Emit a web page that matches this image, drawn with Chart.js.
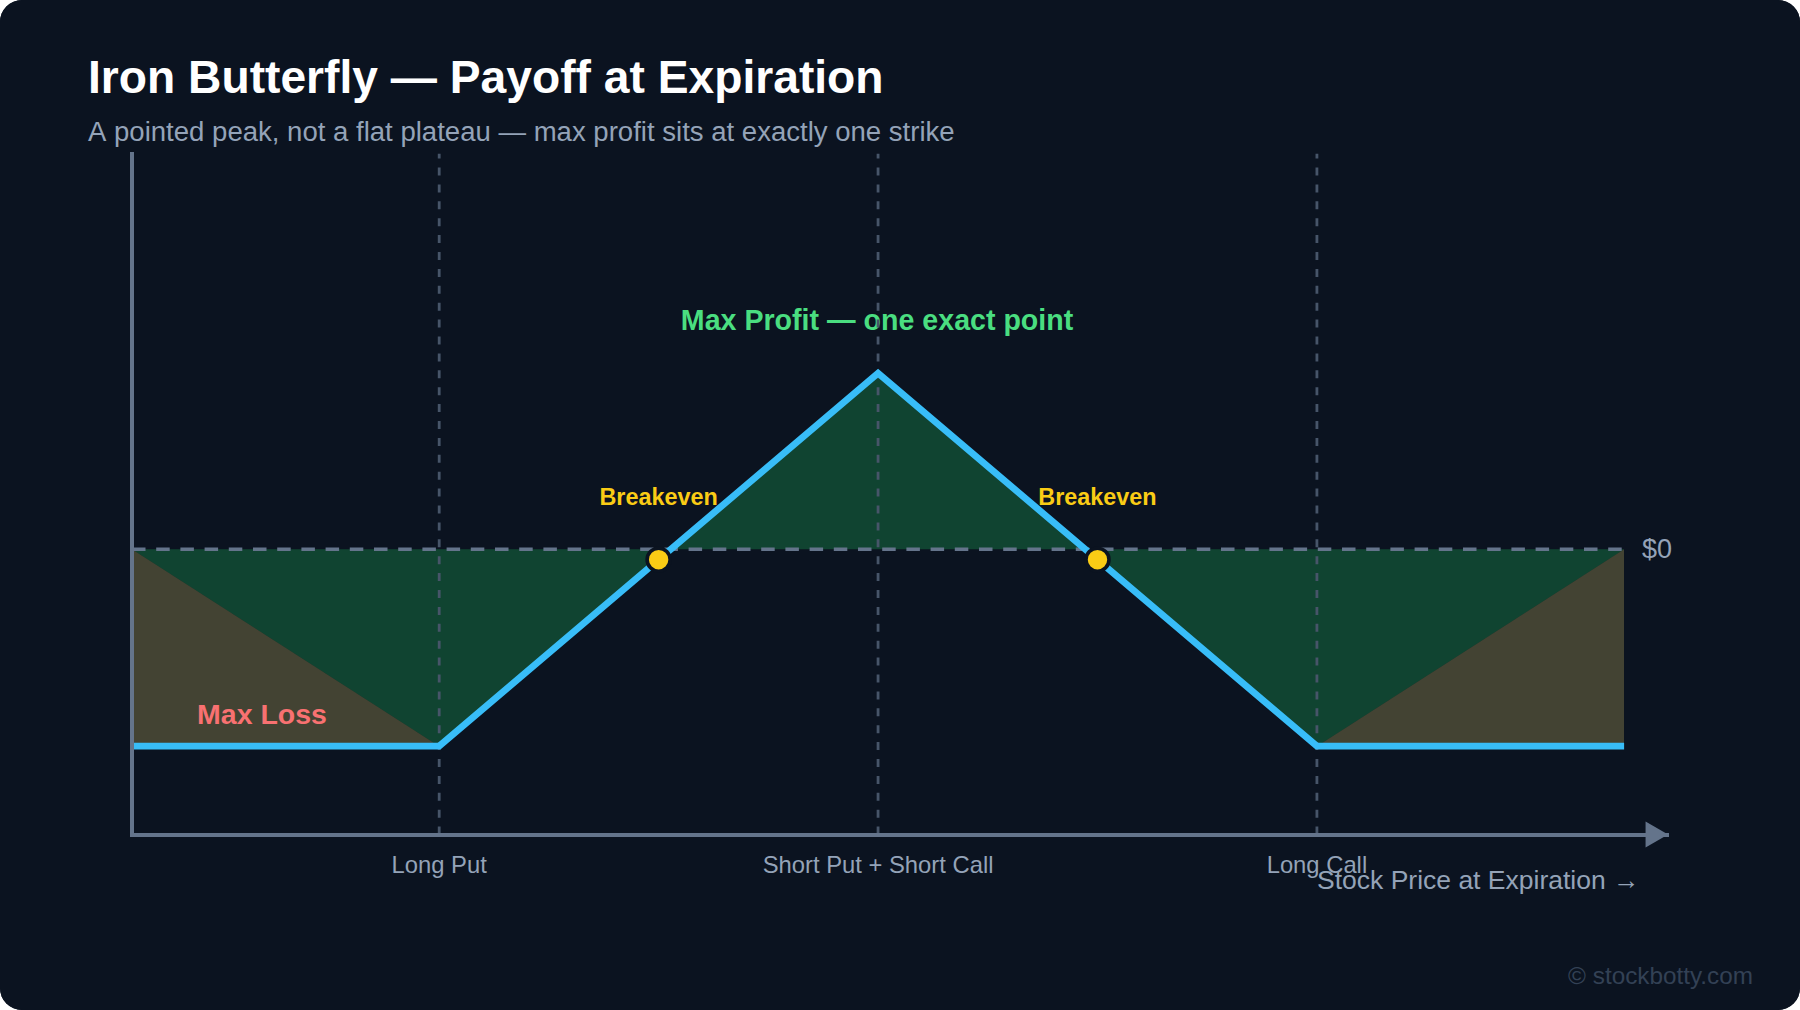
<!DOCTYPE html>
<html>
<head>
<meta charset="utf-8">
<title>Iron Butterfly</title>
<script src="https://cdn.jsdelivr.net/npm/chart.js@4"></script>
<style>
html, body { margin: 0; padding: 0; background: #ffffff; }
#card { width: 1800px; height: 1010px; background: #0b1320; border-radius: 22px; overflow: hidden; }
canvas { display: block; }
</style>
</head>
<body>
<div id="card"><canvas id="grafico" width="1800" height="1010"></canvas></div>
<script>
// payoff (price in $, strikes 10 apart)
const legPrices = [83, 90, 100, 110, 117];
const payoffValues = [-5.28, -5.28, 4.72, -5.28, -5.28];
const shadedValues = [0, -5.28, 4.72, -5.28, 0];
const lossLeftPrices = [83, 90];
const lossLeftValues = [0, -5.28];
const lossRightPrices = [110, 117];
const lossRightValues = [-5.28, 0];
const breakevenPrices = [95, 105];
const breakevenValues = [-0.28, -0.28];
const zeroPrices = [83, 117];
const zeroValues = [0, 0];
const strikePrices = [90, 100, 110];
const strikeLabels = ["Long Put", "Short Put + Short Call", "Long Call"];
const arrowPrices = [117.66];
const arrowValues = [-7.65];

const yMin = -7.65;
const yMax = 10.6;
const fontName = '"Liberation Sans", Arial, sans-serif';
const cardColor = "#0b1320";

const toPoints = (xs, ys) => xs.map((x, i) => ({ x: x, y: ys[i] }));

const lineBase = { pointRadius: 0, borderCapStyle: "butt", clip: false };

const strikeLines = strikePrices.map((precio) => ({
    ...lineBase,
    data: toPoints([precio, precio], [yMin, yMax]),
    borderColor: "#475569",
    borderWidth: 2.8,
    borderDash: [8, 8.9],
    order: 4
}));

// text that sits on the chart, anchored to the scales where it belongs to a value
const drawLabel = (ctx, text, x, y, font, color, align) => {
    ctx.save();
    ctx.font = font + " " + fontName;
    ctx.fillStyle = color;
    ctx.textAlign = align;
    ctx.textBaseline = "alphabetic";
    ctx.fillText(text, x, y);
    ctx.restore();
};

const chartLabels = {
    id: "chartLabels",
    beforeDraw(chart) {
        chart.ctx.save();
        chart.ctx.fillStyle = cardColor;
        chart.ctx.fillRect(0, 0, chart.width, chart.height);
        chart.ctx.restore();
    },
    beforeDatasetsDraw(chart) {
        const x = chart.scales.x;
        drawLabel(chart.ctx, "Max Profit \u2014 one exact point", x.getPixelForValue(strikePrices[1]) - 1, 330, "bold 28.6px", "#4ade80", "center");
    },
    afterDatasetsDraw(chart) {
        const ctx = chart.ctx;
        const x = chart.scales.x;
        const y = chart.scales.y;
        breakevenPrices.forEach((precio) => {
            drawLabel(ctx, "Breakeven", x.getPixelForValue(precio), 505, "bold 23.4px", "#facc15", "center");
        });
        drawLabel(ctx, "Max Loss", 262, 724, "bold 28.5px", "#f87171", "center");
        drawLabel(ctx, "$0", 1642, y.getPixelForValue(0) + 9, "27px", "#94a3b8", "left");
        drawLabel(ctx, "Stock Price at Expiration \u2192", 1317, 889, "26.5px", "#94a3b8", "left");
        drawLabel(ctx, "\u00a9 stockbotty.com", 1753, 983.5, "24.3px", "#334155", "right");
    }
};

const canvas = document.querySelector("#grafico");
canvas.getContext("2d", { alpha: false });

new Chart(canvas, {
    type: "line",
    data: {
        datasets: [
            { ...lineBase, data: toPoints(legPrices, shadedValues), borderWidth: 0, fill: { value: 0 }, backgroundColor: "rgba(34,197,94,0.28)", order: 6 },
            { ...lineBase, data: toPoints(lossLeftPrices, lossLeftValues), borderWidth: 0, fill: { value: -5.28 }, backgroundColor: "#434333", order: 6 },
            { ...lineBase, data: toPoints(lossRightPrices, lossRightValues), borderWidth: 0, fill: { value: -5.28 }, backgroundColor: "#434333", order: 6 },
            ...strikeLines,
            { ...lineBase, data: toPoints(zeroPrices, zeroValues), borderColor: "#64748b", borderWidth: 3.4, borderDash: [13.5, 10.7], order: 3 },
            { ...lineBase, data: toPoints(legPrices, payoffValues), borderColor: "#38bdf8", borderWidth: 6.75, borderJoinStyle: "miter", tension: 0, order: 2 },
            { data: toPoints(breakevenPrices, breakevenValues), showLine: false, pointRadius: 11.5, pointBackgroundColor: "#facc15", pointBorderColor: cardColor, pointBorderWidth: 3.6, clip: false, order: 1 },
            { data: toPoints(arrowPrices, arrowValues), showLine: false, pointStyle: "triangle", pointRotation: 90, pointRadius: 15, pointBackgroundColor: "#64748b", pointBorderWidth: 0, clip: false, order: 1 }
        ]
    },
    options: {
        responsive: false,
        animation: false,
        devicePixelRatio: 1,
        layout: { padding: { left: 88, right: 132, top: 52.8, bottom: 0 } },
        events: [],
        plugins: {
            legend: { display: false },
            tooltip: { enabled: false },
            title: {
                display: true,
                text: "Iron Butterfly \u2014 Payoff at Expiration",
                align: "start",
                color: "#ffffff",
                font: { family: fontName, size: 46.2, weight: "bold", lineHeight: 1.2 },
                padding: { top: 0, bottom: 8.45 }
            },
            subtitle: {
                display: true,
                text: "A pointed peak, not a flat plateau \u2014 max profit sits at exactly one strike",
                align: "start",
                color: "#94a3b8",
                font: { family: fontName, size: 27.56, weight: "normal", lineHeight: 1.2 },
                padding: { top: 0, bottom: 4.08 }
            }
        },
        scales: {
            x: {
                type: "linear",
                min: 83,
                max: 118,
                grid: { display: false },
                border: { display: true, color: "#64748b", width: 4, z: 1 },
                afterBuildTicks: (eje) => { eje.ticks = strikePrices.map((v) => ({ value: v })); },
                afterFit: (eje) => { eje.height = 175.4; },
                ticks: {
                    autoSkip: false,
                    maxRotation: 0,
                    padding: 10,
                    color: "#94a3b8",
                    font: { family: fontName, size: 23.8 },
                    callback: (valor) => strikeLabels[strikePrices.indexOf(valor)]
                }
            },
            y: {
                min: yMin,
                max: yMax,
                grid: { display: false },
                border: { display: true, color: "#64748b", width: 4, z: 1 },
                afterFit: (eje) => { eje.width = 44; },
                ticks: { display: false }
            }
        }
    },
    plugins: [chartLabels]
});
</script>
</body>
</html>
